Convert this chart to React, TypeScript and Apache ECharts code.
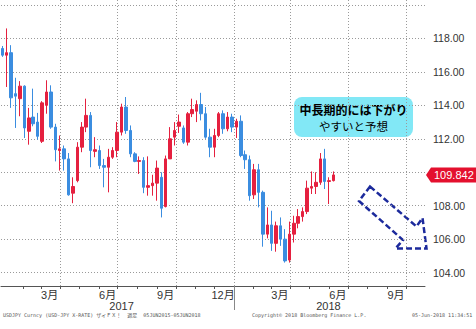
import React, { useEffect, useRef } from "react";
import * as echarts from "echarts";

const dates = [
  "2016-12-30", "2017-01-06", "2017-01-13", "2017-01-20", "2017-01-27", "2017-02-03", "2017-02-10", "2017-02-17",
  "2017-02-24", "2017-03-03", "2017-03-10", "2017-03-17", "2017-03-24", "2017-03-31", "2017-04-07", "2017-04-14",
  "2017-04-21", "2017-04-28", "2017-05-05", "2017-05-12", "2017-05-19", "2017-05-26", "2017-06-02", "2017-06-09",
  "2017-06-16", "2017-06-23", "2017-06-30", "2017-07-07", "2017-07-14", "2017-07-21", "2017-07-28", "2017-08-04",
  "2017-08-11", "2017-08-18", "2017-08-25", "2017-09-01", "2017-09-08", "2017-09-15", "2017-09-22", "2017-09-29",
  "2017-10-06", "2017-10-13", "2017-10-20", "2017-10-27", "2017-11-03", "2017-11-10", "2017-11-17", "2017-11-24",
  "2017-12-01", "2017-12-08", "2017-12-15", "2017-12-22", "2017-12-29", "2018-01-05", "2018-01-12", "2018-01-19",
  "2018-01-26", "2018-02-02", "2018-02-09", "2018-02-16", "2018-02-23", "2018-03-02", "2018-03-09", "2018-03-16",
  "2018-03-23", "2018-03-30", "2018-04-06", "2018-04-13", "2018-04-20", "2018-04-27", "2018-05-04", "2018-05-11",
  "2018-05-18", "2018-05-25", "2018-06-01", "2018-06-08",
];

const opens = [
  117.4, 117.0, 117.15, 114.7, 114.4, 115.15, 112.45, 113.3, 113.0, 111.85, 114.0, 114.8, 112.7, 111.3, 111.4, 110.8,
  108.75, 109.5, 111.5, 112.7, 113.4, 111.25, 111.3, 110.4, 110.3, 110.9, 111.3, 112.4, 113.9, 112.5, 111.1, 110.65,
  110.7, 109.1, 109.2, 109.35, 109.7, 107.95, 110.8, 112.1, 112.75, 112.65, 111.8, 113.5, 113.65, 114.05, 113.5, 112.1,
  111.5, 112.2, 113.5, 112.6, 113.3, 112.7, 113.05, 111.05, 110.75, 108.65, 110.15, 108.8, 106.3, 106.85, 105.75, 106.8,
  106.0, 104.75, 106.3, 106.95, 107.35, 107.65, 109.05, 109.15, 109.4, 110.8, 109.45, 109.5,
];

const highs = [
  117.55, 118.6, 117.6, 115.65, 115.45, 115.2, 113.85, 115.0, 113.55, 114.25, 115.5, 115.2, 112.9, 112.2, 111.6, 111.15,
  109.7, 111.8, 113.0, 114.4, 113.6, 112.1, 111.6, 110.8, 111.4, 111.5, 113.0, 114.1, 114.5, 112.8, 111.2, 110.95,
  110.9, 110.95, 109.85, 110.7, 110.0, 111.0, 112.7, 113.0, 113.45, 112.8, 113.6, 114.4, 114.3, 114.75, 113.9, 112.6,
  112.6, 113.6, 113.7, 113.6, 113.5, 113.2, 113.4, 111.3, 111.0, 110.5, 110.5, 108.9, 107.9, 107.7, 107.05, 107.3,
  106.6, 107.05, 107.4, 107.8, 107.9, 109.5, 110.05, 110.0, 111.15, 111.4, 109.7, 110.05,
];

const lows = [
  116.9, 115.1, 113.85, 112.65, 113.35, 112.05, 111.65, 112.75, 111.95, 111.75, 113.5, 112.6, 110.65, 110.1, 110.1, 108.6,
  108.15, 109.4, 111.2, 112.4, 110.3, 110.9, 110.2, 109.1, 108.8, 110.8, 110.9, 112.2, 112.3, 110.9, 110.6, 109.9,
  108.75, 108.6, 108.6, 108.3, 107.3, 107.9, 110.8, 111.6, 112.35, 111.7, 111.6, 113.3, 113.0, 113.1, 112.0, 110.9,
  110.9, 112.1, 112.3, 112.45, 112.4, 112.05, 110.9, 110.2, 108.3, 108.4, 107.9, 105.55, 106.05, 105.3, 105.25, 105.6,
  104.6, 104.6, 105.8, 106.65, 107.05, 107.5, 108.7, 108.7, 109.25, 109.0, 108.1, 109.45,
];

const closes = [
  117.0, 117.15, 114.45, 114.55, 115.15, 112.65, 113.25, 112.9, 112.15, 114.15, 114.8, 112.7, 111.35, 111.4, 110.8, 108.65,
  109.15, 111.5, 112.7, 113.4, 111.3, 111.35, 110.4, 110.3, 110.9, 111.3, 112.4, 113.9, 112.5, 111.1, 110.65, 110.7,
  109.1, 109.2, 109.35, 110.25, 107.85, 110.8, 112.0, 112.5, 113.0, 111.8, 113.5, 113.75, 114.05, 113.5, 112.1, 111.5,
  112.2, 113.5, 112.6, 113.3, 112.7, 113.05, 111.0, 110.75, 108.6, 110.15, 108.8, 106.3, 106.85, 105.75, 106.8, 106.0,
  104.7, 106.3, 106.95, 107.35, 107.65, 109.05, 109.15, 109.4, 110.8, 109.45, 109.5, 109.842,
];

const lastPrice = 109.842;

const monthTicks = [
  "2017-02-01", "2017-03-01", "2017-04-01", "2017-05-01", "2017-06-01", "2017-07-01", "2017-08-01", "2017-09-01",
  "2017-10-01", "2017-11-01", "2017-12-01", "2018-01-01", "2018-02-01", "2018-03-01", "2018-04-01", "2018-05-01",
  "2018-06-01", "2018-07-01", "2018-08-01", "2018-09-01", "2018-10-01",
];
const monthLabelDates = ["2017-03-15", "2017-06-15", "2017-09-15", "2017-12-15", "2018-03-15", "2018-06-15", "2018-09-15"];
const quarterLines = ["2017-04-01", "2017-07-01", "2017-10-01", "2018-01-01", "2018-04-01", "2018-07-01", "2018-10-01"];
const yearLabelDates = ["2017-07-07", "2018-05-31"];
const yearDivider = ["2018-01-01"];
// 110.00 is hidden behind the last-price tag in the reference
const yTickLabels = [104, 106, 108, 112, 114, 116, 118];
const yGridLines = [104, 106, 108, 110, 112, 114, 116, 118, 120];

const xMin = "2016-12-28";
const xMax = "2018-10-31";

const noteLine1 = "中長期的には下がり";
const noteLine2 = "やすいと予想";
const footerLeft = "USDJPY Curncy (USD-JPY X-RATE) ザイＦＸ！  週足  05JUN2015-05JUN2018";
const footerMid = "Copyright© 2018 Bloomberg Finance L.P.";
const footerRight = "05-Jun-2018 11:34:51";

const ts = (s: string) => {
  const [y, m, d] = s.split("-").map(Number);
  return new Date(y, m - 1, d).getTime();
};

const FONT = "'Liberation Sans', 'Noto Sans CJK JP', sans-serif";
const UP = "#e5203f";
const DOWN = "#3b8de0";
const GRID = "#9a9a9a";
const TAG = "#e4102e";

export default function App() {
  const ref = useRef<HTMLDivElement>(null);
  useEffect(() => {
    document.body.style.margin = "0";
    if (!ref.current) return;
    const chart = echarts.init(ref.current, null, { renderer: "svg" });
    const data = dates.map((d, i) => [ts(d), opens[i], closes[i], lows[i], highs[i]]);
    const min = ts(xMin);
    const max = ts(xMax);
    const option: any = {
      animation: false,
      backgroundColor: "#ffffff",
      grid: { left: 1, right: 51, top: 0, bottom: 43, outerBoundsMode: "none", containLabel: false },
      xAxis: [
        {
          type: "value",
          min,
          max,
          position: "bottom",
          axisLine: { show: true, onZero: false, lineStyle: { color: "#555", width: 1 } },
          axisTick: { show: true, inside: false, length: 3, customValues: monthTicks.map(ts), lineStyle: { color: "#555" } },
          axisLabel: {
            show: true,
            customValues: monthLabelDates.map(ts),
            formatter: (v: number) => `${new Date(v).getMonth() + 1}月`,
            margin: 3,
            fontSize: 11,
            color: "#333",
            fontFamily: FONT,
          },
          splitLine: { show: false },
        },
        {
          type: "value",
          min,
          max,
          position: "bottom",
          axisLine: { show: false, onZero: false },
          axisTick: { show: true, inside: false, length: 24, customValues: yearDivider.map(ts), lineStyle: { color: "#888" } },
          axisLabel: {
            show: true,
            customValues: yearLabelDates.map(ts),
            formatter: (v: number) => `${new Date(v).getFullYear()}`,
            margin: 14,
            fontSize: 11,
            color: "#333",
            fontFamily: FONT,
          },
          splitLine: { show: false },
        },
        {
          type: "value",
          min,
          max,
          position: "top",
          axisLine: { show: false, onZero: false },
          axisTick: { show: false, customValues: quarterLines.map(ts) },
          axisLabel: { show: false },
          splitLine: { show: true, lineStyle: { color: GRID, width: 1, type: [1, 2] } },
        },
      ],
      yAxis: {
        type: "value",
        position: "right",
        min: 103.2,
        max: 120.3,
        axisLine: { show: false },
        axisTick: { show: false, customValues: yGridLines },
        axisLabel: {
          customValues: yTickLabels,
          formatter: (v: number) => v.toFixed(2),
          margin: 8,
          fontSize: 10.5,
          color: "#333",
          fontFamily: FONT,
        },
        splitLine: { show: true, lineStyle: { color: GRID, width: 1, type: [1, 2] } },
      },
      series: [
        {
          type: "candlestick",
          xAxisIndex: 0,
          yAxisIndex: 0,
          encode: { x: 0, y: [1, 2, 3, 4] },
          data,
          barWidth: 3,
          itemStyle: { color: UP, color0: DOWN, borderColor: UP, borderColor0: DOWN, borderWidth: 1 },
        },
      ],
      graphic: [
        { id: "noteBox", type: "rect", shape: { x: 294, y: 97, width: 119, height: 40, r: 8 }, style: { fill: "#82e8f6" } },
        {
          id: "note1",
          type: "text",
          x: 353.5,
          y: 109.5,
          style: {
            text: noteLine1,
            font: "bold 12px 'Noto Sans CJK JP'",
            fill: "#000",
            align: "center",
            verticalAlign: "middle",
            textAlign: "center",
            textVerticalAlign: "middle",
          },
        },
        {
          id: "note2",
          type: "text",
          x: 353.5,
          y: 126,
          style: {
            text: noteLine2,
            font: "11.5px 'Noto Sans CJK JP'",
            fill: "#000",
            align: "center",
            verticalAlign: "middle",
            textAlign: "center",
            textVerticalAlign: "middle",
          },
        },
        {
          id: "arrow",
          type: "polygon",
          shape: {
            points: [
              [370, 186.5],
              [416.5, 226.5],
              [422.5, 218],
              [426.5, 248.5],
              [395.5, 248.5],
              [403, 240],
              [359, 201],
            ],
          },
          style: { fill: "none", stroke: "#1c2a9c", lineWidth: 2.5, lineDash: [6, 3] },
        },
        {
          id: "footL",
          type: "text",
          x: 3,
          y: 315,
          style: { text: footerLeft, font: "5px 'DejaVu Sans Mono', 'Noto Sans CJK JP'", fill: "#555", verticalAlign: "middle", textVerticalAlign: "middle" },
        },
        {
          id: "footM",
          type: "text",
          x: 252,
          y: 315,
          style: { text: footerMid, font: "5px 'DejaVu Sans Mono'", fill: "#555", verticalAlign: "middle", textVerticalAlign: "middle" },
        },
        {
          id: "footR",
          type: "text",
          x: 412,
          y: 315,
          style: { text: footerRight, font: "5px 'DejaVu Sans Mono'", fill: "#555", verticalAlign: "middle", textVerticalAlign: "middle" },
        },
      ],
    };
    chart.setOption(option);
    // last-price tag, placed at the price's pixel height given by the y axis
    const py = chart.convertToPixel({ yAxisIndex: 0 }, lastPrice) as number;
    if (typeof py === "number" && isFinite(py)) {
      chart.setOption({
        graphic: [
          {
            id: "tagTip",
            type: "polygon",
            shape: { points: [[426, py], [431, py - 7.5], [431, py + 7.5]] },
            style: { fill: TAG },
          },
          {
            id: "tagText",
            type: "text",
            x: 431,
            y: py,
            style: {
              text: lastPrice.toFixed(3),
              font: `11px ${FONT}`,
              fill: "#ffffff",
              backgroundColor: TAG,
              padding: [2, 3, 2, 3],
              verticalAlign: "middle",
              textVerticalAlign: "middle",
            },
          },
        ],
      });
    }
    return () => chart.dispose();
  }, []);
  return <div ref={ref} style={{ width: 476, height: 329 }} />;
}
